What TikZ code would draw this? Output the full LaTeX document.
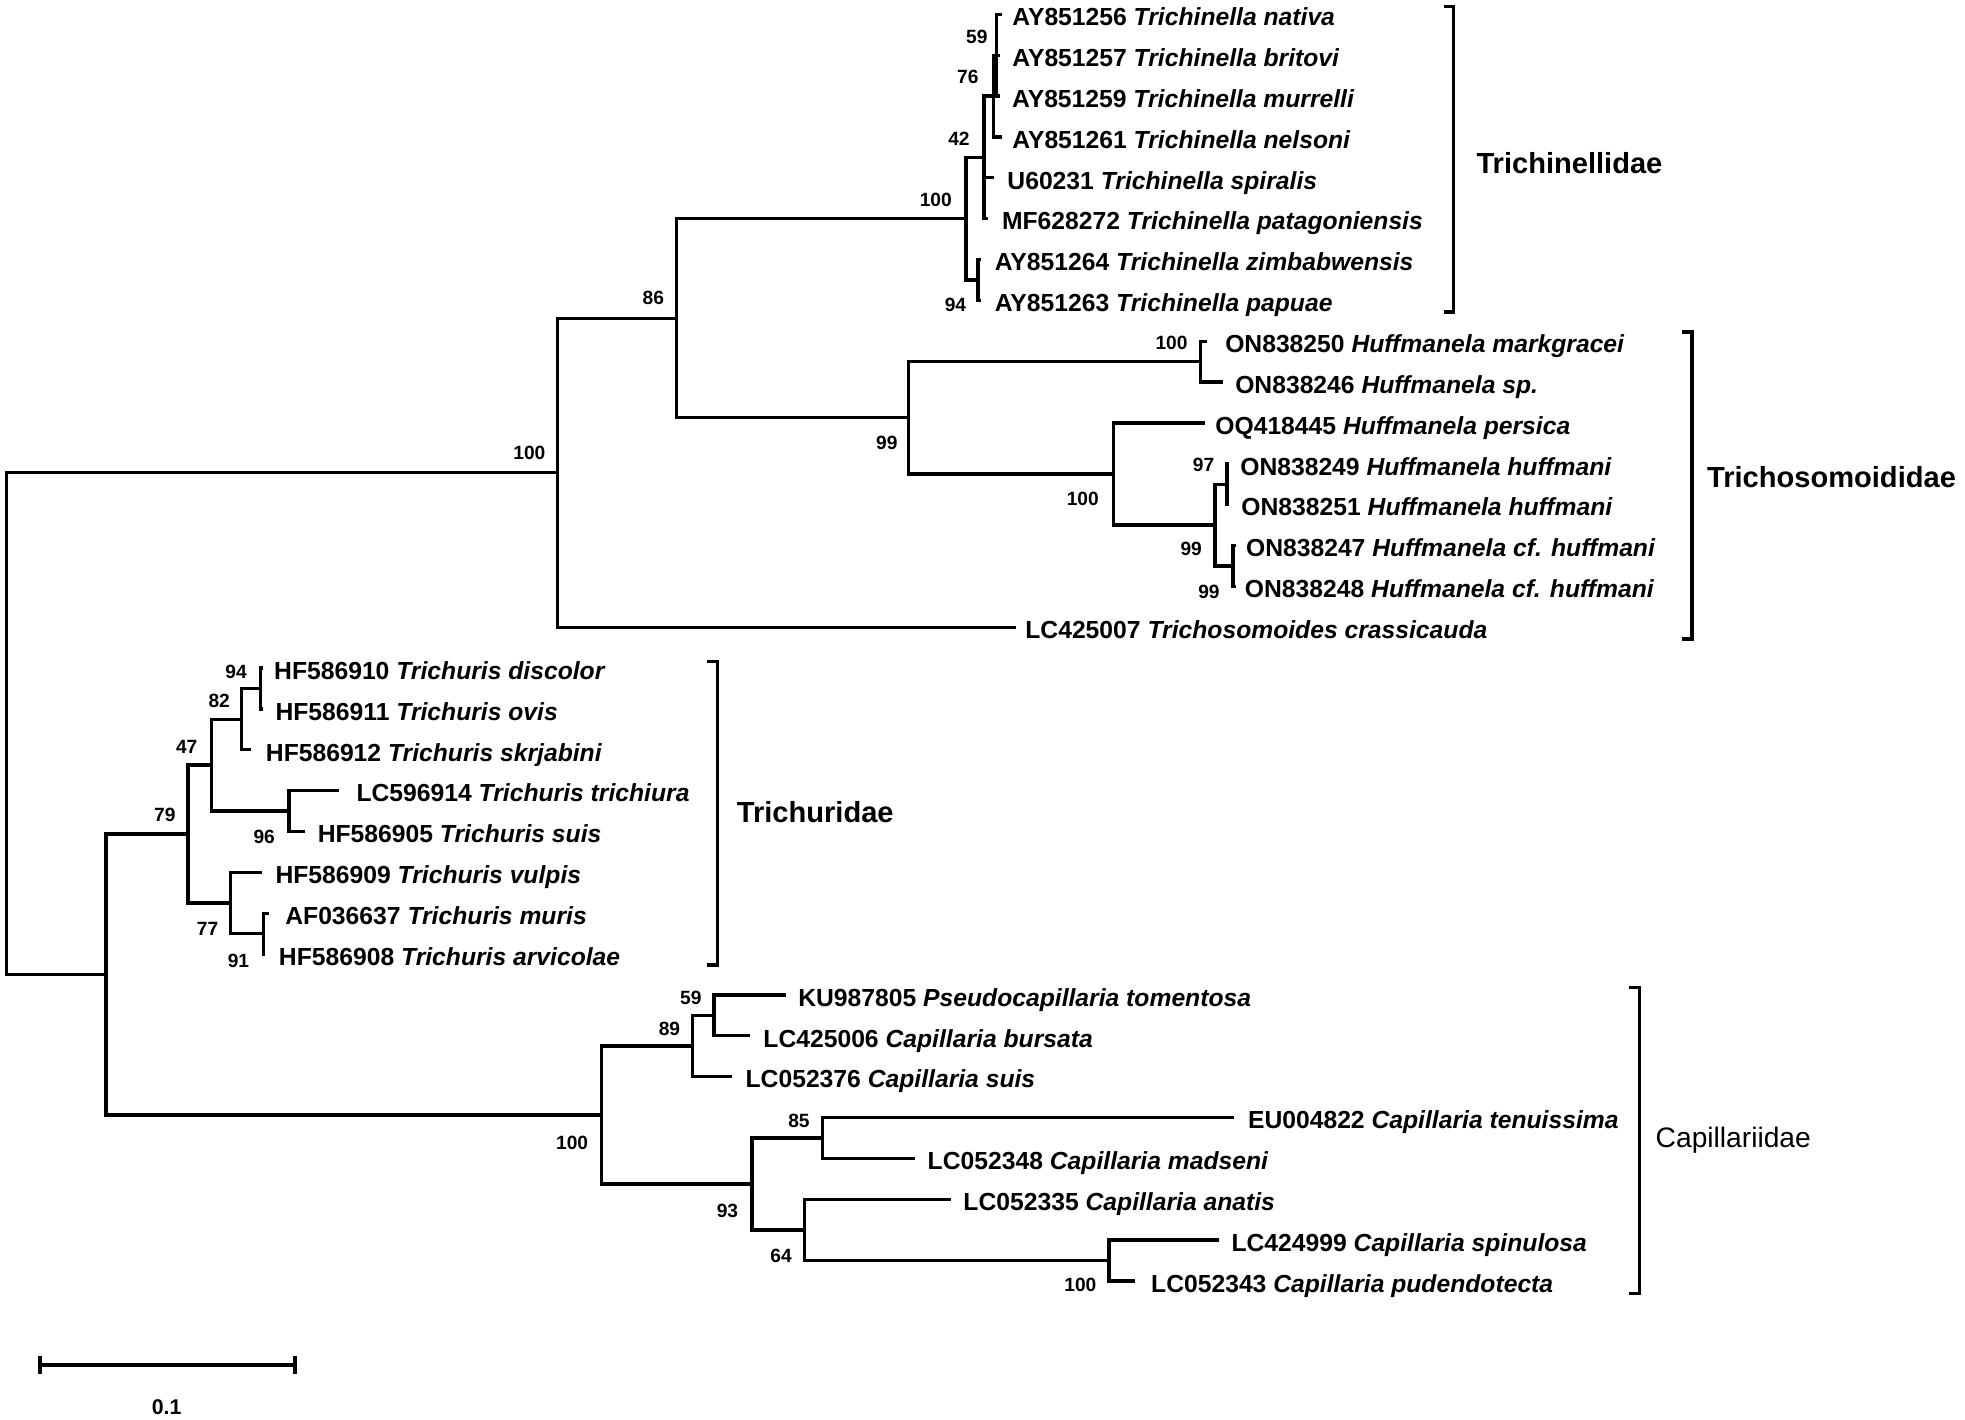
\documentclass[tikz,border=0pt]{standalone}
\usepackage{fontspec}
\setmainfont{Liberation Sans}
\usetikzlibrary{positioning}

\begin{document}
\begin{tikzpicture}[x=1pt,y=-1pt,
    limb/.style={line width=2.6pt},
    clamp/.style={line width=2.7pt},
    taxon/.style={anchor=base west,inner sep=0pt,font=\fontsize{19.7}{22}\selectfont\bfseries},
    boot/.style={inner sep=0pt,font=\fontsize{15.3}{17}\selectfont\bfseries},
    famname/.style={anchor=base west,inner sep=0pt,font=\fontsize{23.2}{26}\selectfont\bfseries}]
    \useasboundingbox (0,0) rectangle (1568,1133);

    % internal nodes
    \coordinate (root) at (5,577.4);
    \coordinate (nA) at (445,377.2);
    \coordinate (nB) at (540,254);
    \coordinate (nT) at (770.9,174.5);
    \coordinate (n42) at (785.2,125.6);
    \coordinate (n76) at (792.9,76.7);
    \coordinate (n59) at (795.1,44.1);
    \coordinate (n94) at (780.3,223.4);
    \coordinate (nH) at (725,333.4);
    \coordinate (nHa) at (958.2,288.6);
    \coordinate (nHb) at (888.6,378.25);
    \coordinate (nHc) at (969.6,419);
    \coordinate (n97) at (979,386.4);
    \coordinate (nHd) at (983.8,451.6);
    \coordinate (nC) at (84.5,777.6);
    \coordinate (n79) at (150.1,665.5);
    \coordinate (n47) at (168.7,610.5);
    \coordinate (n82) at (192.6,573.9);
    \coordinate (n94t) at (208.1,549.4);
    \coordinate (n96) at (230.6,647.2);
    \coordinate (n77) at (183.7,720.6);
    \coordinate (n91) at (210,745);
    \coordinate (nCap) at (480.1,889.7);
    \coordinate (n89) at (552.7,834.7);
    \coordinate (n59c) at (569.8,810.2);
    \coordinate (n93) at (600.1,944.7);
    \coordinate (n85) at (656.4,908);
    \coordinate (n64) at (642.2,981.4);
    \coordinate (n100d) at (885,1005.8);

    % leaf tips
    \coordinate (l0) at (799.4,11.5);
    \coordinate (l1) at (798,44.1);
    \coordinate (l2) at (798,76.7);
    \coordinate (l3) at (799.4,109.3);
    \coordinate (l4) at (792.9,141.9);
    \coordinate (l5) at (788,174.5);
    \coordinate (l6) at (782.5,207.1);
    \coordinate (l7) at (782.5,239.7);
    \coordinate (l8) at (963.3,272.3);
    \coordinate (l9) at (976.1,304.9);
    \coordinate (l10) at (961.9,337.5);
    \coordinate (l11) at (981,370.1);
    \coordinate (l12) at (981,402.7);
    \coordinate (l13) at (986,435.3);
    \coordinate (l14) at (986,467.9);
    \coordinate (l15) at (811,500.5);
    \coordinate (l16) at (210,533.1);
    \coordinate (l17) at (210,565.7);
    \coordinate (l18) at (200.4,598.3);
    \coordinate (l19) at (270.8,630.9);
    \coordinate (l20) at (243,663.5);
    \coordinate (l21) at (208.9,696.1);
    \coordinate (l22) at (214.7,728.7);
    \coordinate (l23) at (211.5,761.3);
    \coordinate (l24) at (626.8,793.9);
    \coordinate (l25) at (598.3,826.5);
    \coordinate (l26) at (584.1,859.1);
    \coordinate (l27) at (985,891.7);
    \coordinate (l28) at (730,924.3);
    \coordinate (l29) at (758.7,956.9);
    \coordinate (l30) at (972.6,989.5);
    \coordinate (l31) at (905.6,1022.1);

    % branches
    \draw[limb] (root) |- (nA);
    \draw[limb] (root) |- (nC);
    \draw[limb] (nA) |- (nB);
    \draw[limb] (nA) |- (l15);
    \draw[limb] (nB) |- (nT);
    \draw[limb] (nB) |- (nH);
    \draw[limb] (nT) |- (n42);
    \draw[limb] (nT) |- (n94);
    \draw[limb] (n42) |- (n76);
    \draw[limb] (n42) |- (l4);
    \draw[limb] (n42) |- (l5);
    \draw[limb] (n76) |- (n59);
    \draw[limb] (n76) |- (l3);
    \draw[limb] (n59) |- (l0);
    \draw[limb] (n59) |- (l1);
    \draw[limb] (n59) |- (l2);
    \draw[limb] (n94) |- (l6);
    \draw[limb] (n94) |- (l7);
    \draw[limb] (nH) |- (nHa);
    \draw[limb] (nH) |- (nHb);
    \draw[limb] (nHa) |- (l8);
    \draw[limb] (nHa) |- (l9);
    \draw[limb] (nHb) |- (l10);
    \draw[limb] (nHb) |- (nHc);
    \draw[limb] (nHc) |- (n97);
    \draw[limb] (nHc) |- (nHd);
    \draw[limb] (n97) |- (l11);
    \draw[limb] (n97) |- (l12);
    \draw[limb] (nHd) |- (l13);
    \draw[limb] (nHd) |- (l14);
    \draw[limb] (nC) |- (n79);
    \draw[limb] (nC) |- (nCap);
    \draw[limb] (n79) |- (n47);
    \draw[limb] (n79) |- (n77);
    \draw[limb] (n47) |- (n82);
    \draw[limb] (n47) |- (n96);
    \draw[limb] (n82) |- (n94t);
    \draw[limb] (n82) |- (l18);
    \draw[limb] (n94t) |- (l16);
    \draw[limb] (n94t) |- (l17);
    \draw[limb] (n96) |- (l19);
    \draw[limb] (n96) |- (l20);
    \draw[limb] (n77) |- (l21);
    \draw[limb] (n77) |- (n91);
    \draw[limb] (n91) |- (l22);
    \draw[limb] (n91) |- (l23);
    \draw[limb] (nCap) |- (n89);
    \draw[limb] (nCap) |- (n93);
    \draw[limb] (n89) |- (n59c);
    \draw[limb] (n89) |- (l26);
    \draw[limb] (n59c) |- (l24);
    \draw[limb] (n59c) |- (l25);
    \draw[limb] (n93) |- (n85);
    \draw[limb] (n93) |- (n64);
    \draw[limb] (n85) |- (l27);
    \draw[limb] (n85) |- (l28);
    \draw[limb] (n64) |- (l29);
    \draw[limb] (n64) |- (n100d);
    \draw[limb] (n100d) |- (l30);
    \draw[limb] (n100d) |- (l31);

    % taxa
    \node[taxon] (t0) at (807.7,20.5) {AY851256 \textit{Trichinella nativa}};
    \node[taxon] (t1) at (807.7,53.1) {AY851257 \textit{Trichinella britovi}};
    \node[taxon] (t2) at (807.5,85.7) {AY851259 \textit{Trichinella murrelli}};
    \node[taxon] (t3) at (807.7,118.3) {AY851261 \textit{Trichinella nelsoni}};
    \node[taxon] (t4) at (803.7,150.9) {U60231 \textit{Trichinella spiralis}};
    \node[taxon] (t5) at (799.4,183.5) {MF628272 \textit{Trichinella patagoniensis}};
    \node[taxon] (t6) at (793.7,216.1) {AY851264 \textit{Trichinella zimbabwensis}};
    \node[taxon] (t7) at (793.7,248.7) {AY851263 \textit{Trichinella papuae}};
    \node[taxon] (t8) at (977.5,281.3) {ON838250 \textit{Huffmanela markgracei}};
    \node[taxon] (t9) at (985.5,313.9) {ON838246 \textit{Huffmanela sp.}};
    \node[taxon] (t10) at (969.6,346.5) {OQ418445 \textit{Huffmanela persica}};
    \node[taxon] (t11) at (989.5,379.1) {ON838249 \textit{Huffmanela huffmani}};
    \node[taxon] (t12) at (990.4,411.7) {ON838251 \textit{Huffmanela huffmani}};
    \node[taxon] (t13) at (994.1,444.3) {ON838247 \textit{Huffmanela cf. huffmani}};
    \node[taxon] (t14) at (993.2,476.9) {ON838248 \textit{Huffmanela cf. huffmani}};
    \node[taxon] (t15) at (818,509.5) {LC425007 \textit{Trichosomoides crassicauda}};
    \node[taxon] (t16) at (218.6,542.1) {HF586910 \textit{Trichuris discolor}};
    \node[taxon] (t17) at (219.7,574.7) {HF586911 \textit{Trichuris ovis}};
    \node[taxon] (t18) at (212,607.3) {HF586912 \textit{Trichuris skrjabini}};
    \node[taxon] (t19) at (284.3,639.9) {LC596914 \textit{Trichuris trichiura}};
    \node[taxon] (t20) at (253.4,672.5) {HF586905 \textit{Trichuris suis}};
    \node[taxon] (t21) at (219.7,705.1) {HF586909 \textit{Trichuris vulpis}};
    \node[taxon] (t22) at (227.5,737.7) {AF036637 \textit{Trichuris muris}};
    \node[taxon] (t23) at (222.4,770.3) {HF586908 \textit{Trichuris arvicolae}};
    \node[taxon] (t24) at (636.8,802.9) {KU987805 \textit{Pseudocapillaria tomentosa}};
    \node[taxon] (t25) at (609,835.5) {LC425006 \textit{Capillaria bursata}};
    \node[taxon] (t26) at (594.8,868.1) {LC052376 \textit{Capillaria suis}};
    \node[taxon] (t27) at (995.7,900.7) {EU004822 \textit{Capillaria tenuissima}};
    \node[taxon] (t28) at (740.1,933.3) {LC052348 \textit{Capillaria madseni}};
    \node[taxon] (t29) at (768.6,965.9) {LC052335 \textit{Capillaria anatis}};
    \node[taxon] (t30) at (982.5,998.5) {LC424999 \textit{Capillaria spinulosa}};
    \node[taxon] (t31) at (918.4,1031.1) {LC052343 \textit{Capillaria pudendotecta}};

    % bootstrap values
    \node[boot] (bA) at (422.4,361.7) {100};
    \node[boot] (bB) at (521.3,238) {86};
    \node[boot] (bH) at (707.7,353.8) {99};
    \node[boot] (bT) at (746.7,159.6) {100};
    \node[boot] (b42) at (765.2,110.4) {42};
    \node[boot] (b76) at (772.3,61.7) {76};
    \node[boot] (b59) at (779.5,29.3) {59};
    \node[boot] (b94) at (762.4,243.4) {94};
    \node[boot] (bHa) at (934.8,274) {100};
    \node[boot] (bHb) at (864,398) {100};
    \node[boot] (b97) at (960.4,371) {97};
    \node[boot] (bHc) at (950.5,438.3) {99};
    \node[boot] (bHd) at (964.7,472) {99};
    \node[boot] (b94t) at (188.4,536) {94};
    \node[boot] (b82) at (174.9,559.1) {82};
    \node[boot] (b47) at (149,596.3) {47};
    \node[boot] (b79) at (131.5,650) {79};
    \node[boot] (b96) at (210.8,667.6) {96};
    \node[boot] (b77) at (165.6,741.5) {77};
    \node[boot] (b91) at (190.3,766.6) {91};
    \node[boot] (bCap) at (456.5,911.7) {100};
    \node[boot] (b89) at (534.2,821.4) {89};
    \node[boot] (b59c) at (551.3,796) {59};
    \node[boot] (b93) at (580.5,966.6) {93};
    \node[boot] (b85) at (637.5,894.2) {85};
    \node[boot] (b64) at (623.3,1002.2) {64};
    \node[boot] (b100d) at (862.1,1025.5) {100};

    % family brackets
    \draw[clamp] (1152,5) -- (1160,5) -- (1160,249) -- (1152,249);
    \draw[clamp] (1342,265) -- (1350,265) -- (1350,510) -- (1342,510);
    \draw[clamp] (564.5,528) -- (572.5,528) -- (572.5,770) -- (564.5,770);
    \draw[clamp] (1300,788) -- (1308,788) -- (1308,1032) -- (1300,1032);
    \node[famname] (trichinellidae) at (1178,138.3) {Trichinellidae};
    \node[famname] (trichosomoididae) at (1362,389.3) {Trichosomoididae};
    \node[famname] (trichuridae) at (587.8,656.3) {Trichuridae};
    \node[famname,font=\fontsize{22.5}{25}\selectfont] (capillariidae) at (1321,916) {Capillariidae};

    % scale bar
    \draw[limb] (31.9,1089.2) -- (235.4,1089.2);
    \draw[limb] (31.9,1082) -- (31.9,1096.5);
    \draw[limb] (235.4,1082) -- (235.4,1096.5);
    \node[inner sep=0pt,font=\fontsize{17}{19}\selectfont\bfseries] (scalelab) at (133,1122.5) {0.1};
\end{tikzpicture}
\end{document}
